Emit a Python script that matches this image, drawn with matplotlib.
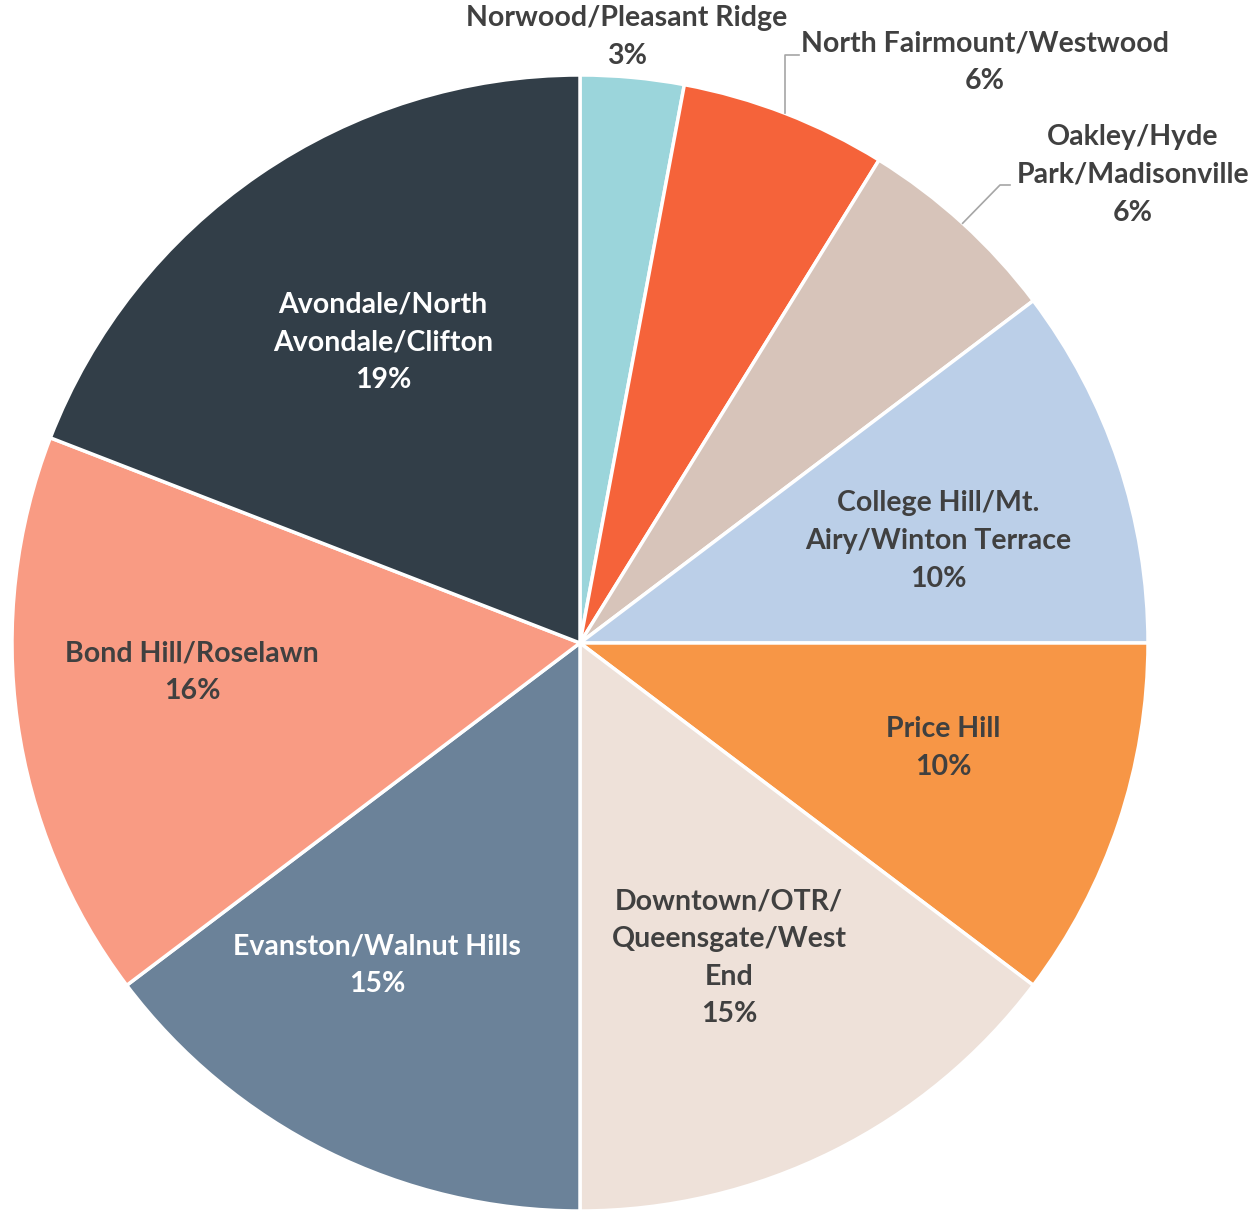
import numpy as np
import matplotlib
matplotlib.use("Agg")
import matplotlib.pyplot as plt

# %% Data (counts per area, clockwise from top)
areas = ['Norwood/Pleasant Ridge', 'North Fairmount/Westwood',
         'Oakley/Hyde\nPark/Madisonville', 'College Hill/Mt.\nAiry/Winton Terrace',
         'Price Hill', 'Downtown/OTR/\nQueensgate/West\nEnd',
         'Evanston/Walnut Hills', 'Bond Hill/Roselawn',
         'Avondale/North\nAvondale/Clifton']
counts = [2, 4, 4, 7, 7, 10, 10, 11, 13]
colors = ['#9BD5DB', '#F5633A', '#D7C4BA', '#BBCFE8', '#F79646',
          '#EEE1D9', '#6B8299', '#F99B83', '#323E48']
text_colors = ['#404040'] * 6 + ['white', '#404040', 'white']

plt.rcParams['font.family'] = ['Lato', 'DejaVu Sans']

# %% Layout (pixel coords, y from top)
W, H = 1259, 1218
cx, cy, R = 580, H - 643, 568
label_xy = [(627, 37), (985, 62), (1133, 175), (938, 541), (943, 748),
            (729, 958), (377, 965), (192, 672), (383, 342)]
FS = 20.5
LS = 1.55

fig = plt.figure(figsize=(W / 100, H / 100), dpi=100)
ax = fig.add_axes([0, 0, 1, 1])

wedges, _ = ax.pie(counts, colors=colors, startangle=90, counterclock=False,
                   center=(cx, cy), radius=R, frame=True,
                   wedgeprops=dict(edgecolor='white', linewidth=2.5))
ax.set_xlim(0, W)
ax.set_ylim(0, H)
ax.set_aspect('equal')
ax.axis('off')

total = sum(counts)
pcts = [f"{round(c / total * 100):.0f}%" for c in counts]

for i, (lx, ly) in enumerate(label_xy):
    ax.text(lx, H - ly, areas[i] + '\n' + pcts[i], ha='center', va='center',
            fontsize=FS, fontweight='bold', color=text_colors[i], linespacing=LS)

# leader lines for the small outside labels
mid = np.deg2rad((wedges[1].theta1 + wedges[1].theta2) / 2)
ex, ey = cx + R * np.cos(mid), cy + R * np.sin(mid)
ax.plot([ex, ex, ex + 14], [ey, H - 55, H - 55], color='#A6A6A6', lw=1.2)

mid = np.deg2rad((wedges[2].theta1 + wedges[2].theta2) / 2)
ex, ey = cx + R * np.cos(mid), cy + R * np.sin(mid)
ax.plot([ex, 1000, 1010], [ey, H - 185, H - 185], color='#A6A6A6', lw=1.2)

plt.savefig('out.png', dpi=100, facecolor='white')
